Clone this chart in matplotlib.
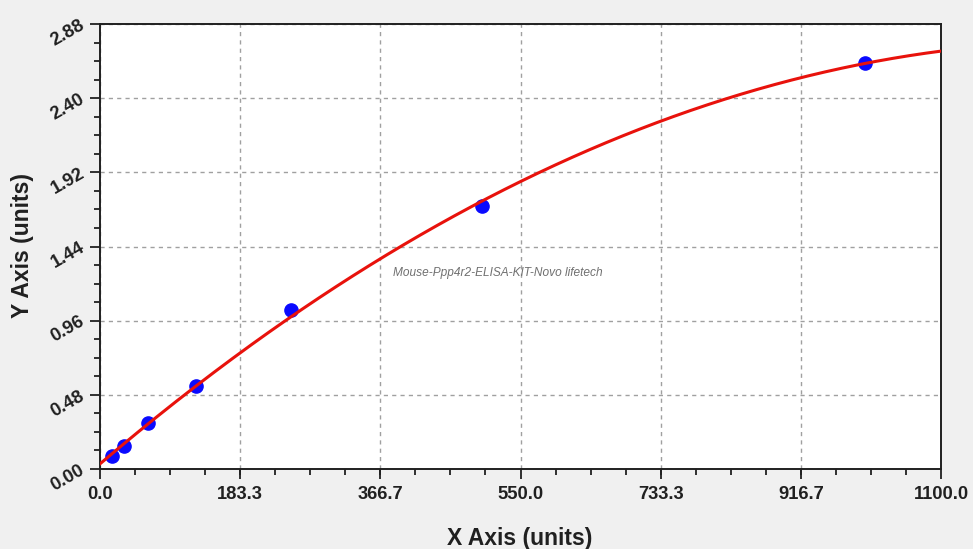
import numpy as np
import matplotlib
matplotlib.use("Agg")
import matplotlib.pyplot as plt
from matplotlib.ticker import MultipleLocator, FixedLocator

# Data
conc = [15.6, 31.25, 62.5, 125.0, 250.0, 500.0, 1000.0]
od = [0.082, 0.152, 0.298, 0.54, 1.03, 1.70, 2.63]
x_ticks = [0.0, 183.3, 366.7, 550.0, 733.3, 916.7, 1100.0]
x_tick_labels = ["0.0", "183.3", "366.7", "550.0", "733.3", "916.7", "1100.0"]
y_ticks = [0.00, 0.48, 0.96, 1.44, 1.92, 2.40, 2.88]
y_tick_labels = ["0.00", "0.48", "0.96", "1.44", "1.92", "2.40", "2.88"]
watermark = "Mouse-Ppp4r2-ELISA-KIT-Novo lifetech"

plt.rcParams['font.family'] = ['Liberation Sans', 'DejaVu Sans']

W, H = 973, 549
fig = plt.figure(figsize=(W/100, H/100), dpi=100, facecolor='#f0f0f0')
ax = fig.add_axes([100/W, 80/H, 841/W, 445/H])
ax.set_facecolor('white')

# fitted curve (quadratic fit of the points)
coef = np.polyfit(conc, od, 2)
xs = np.linspace(0, 1100, 400)
ax.plot(xs, np.polyval(coef, xs), color='#e8120c', lw=2.2, zorder=4)
ax.plot(conc, od, 'o', color='#0a0aff', markersize=9.5, zorder=3)

ax.set_xlim(0, 1100)
ax.set_ylim(0, 2.88)
ax.xaxis.set_major_locator(FixedLocator(x_ticks))
ax.yaxis.set_major_locator(FixedLocator(y_ticks))
ax.set_xticklabels(x_tick_labels, fontsize=13.2, fontweight='bold', color='#202020')
ax.set_yticklabels(y_tick_labels, fontsize=13.2, fontweight='bold', color='#202020',
                   rotation=30, ha='right', va='center', rotation_mode='anchor')
ax.xaxis.set_minor_locator(MultipleLocator(1100/24))
ax.yaxis.set_minor_locator(MultipleLocator(0.12))
ax.tick_params(which='major', direction='out', length=7, width=1.3, color='#202020')
ax.tick_params(which='minor', direction='out', length=4, width=1.3, color='#202020')
ax.tick_params(axis='x', which='major', pad=5)
ax.tick_params(axis='y', which='major', pad=5)

ax.grid(True, which='major', color='#a0a0a0', linestyle=(0, (3, 3)), lw=1)
for s in ax.spines.values():
    s.set_linewidth(1.4)
    s.set_color('#202020')

fig.text(520/W, 1 - 538/H, "X Axis (units)", fontsize=16.5, fontweight='bold',
         color='#202020', ha='center', va='center')
fig.text(22/W, 1 - 245/H, "Y Axis (units)", fontsize=16.5, fontweight='bold',
         color='#202020', ha='center', va='center', rotation=90)

fig.text(393/W, 1 - 273/H, watermark, fontsize=8.6,
         style='italic', color='#707070', va='center', ha='left')

fig.savefig("out.png", dpi=100, facecolor=fig.get_facecolor())
